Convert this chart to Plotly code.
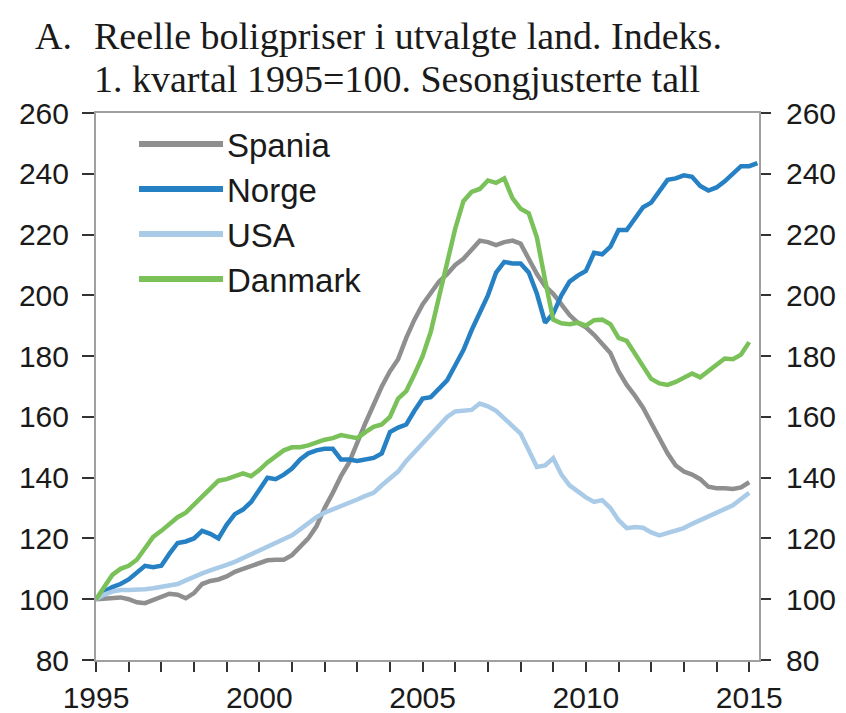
import plotly.graph_objects as go

# Quarterly index values, 1. kvartal 1995 = 100
start_year = 1995
spania = [100, 100.3, 100.5, 100.6, 100, 99, 98.7, 99.8, 100.5, 101.8, 101.5, 100.3,
          102, 105, 106, 106.5, 107.5, 109, 110, 111, 112, 112.8, 113, 113,
          114.5, 117, 120, 124, 130, 135, 140.5, 145, 152, 158, 164, 170,
          175, 179, 186, 192, 197, 201, 204.5, 207, 210, 212, 215, 218,
          217.5, 216.5, 217.5, 218, 217, 212, 207, 203, 200.5, 197, 193.5, 191,
          189.5, 187, 184, 181, 175, 170.5, 167, 163, 158, 153, 148, 144,
          142, 141, 139.5, 137, 136.5, 136.5, 136.3, 136.8, 138.5]
norge = [100, 102.5, 104, 105, 106.5, 109, 111, 110.5, 111, 115, 118.5, 119,
         120, 122.5, 121.5, 120, 124.5, 128, 129.5, 132, 136, 140, 139.5, 141,
         143, 146, 148, 149, 149.5, 149.5, 146, 146, 145.5, 146, 146.5, 148,
         155, 156.5, 157.5, 162, 166, 166.5, 169, 172, 177, 182, 188.5, 194,
         200, 207.5, 211, 210.5, 210.5, 207.5, 200.5, 191, 194, 200, 204.5, 206.5,
         208, 214, 213.5, 216, 221.5, 221.5, 225, 229, 230.5, 234, 238, 238.5,
         239.5, 239, 236, 234.5, 235.5, 237.5, 240, 242.5, 242.5, 243.5]
usa = [100, 101.5, 102.5, 103, 103, 103, 103.3, 103.6, 104, 104.3, 105, 106.2,
       107.5, 108.5, 109.5, 110.3, 111.3, 112.3, 113.5, 114.8, 115.8, 117, 118.3, 119.7,
       121, 123, 125, 127, 128.5, 129.5, 130.5, 131.8, 132.8, 134, 135, 137.5,
       140, 142, 145.5, 148.5, 151.3, 154, 157, 160, 161.8, 162, 162.3, 164.4,
       163.5, 162, 159.5, 157, 154.5, 149, 143.5, 144, 146.4, 141, 137.5, 135.5,
       133.5, 132, 132.6, 130, 126, 123.4, 123.8, 123.5, 122, 121, 121.8, 122.5,
       123.4, 124.8, 126, 127.2, 128.2, 129.5, 130.9, 133, 135]
danmark = [100, 104, 108, 110, 111, 113, 117, 120.5, 122.5, 125, 127, 128.5,
           131, 133.5, 136.5, 139, 139.5, 140.5, 141.4, 140.5, 142.5, 145, 147, 149,
           150, 150, 150.6, 151.5, 152.5, 153, 154, 153.5, 153, 155, 156.7, 157.5,
           160, 166, 168.5, 174, 180, 188, 199, 211, 222, 231, 234, 235,
           237.8, 237, 238.5, 232, 228.5, 227, 219, 205, 192, 190.8, 190.5, 191,
           190, 191.8, 192, 190.5, 186, 185, 181, 176.4, 172.5, 171, 170.5, 171.5,
           173, 174.3, 173, 175, 177, 179.2, 179, 180.5, 184.6]

names = ["Spania", "Norge", "USA", "Danmark"]
series = [spania, norge, usa, danmark]
colors = ["#8f8f8f", "#2681c4", "#a9cbe8", "#7bc15a"]

year_ticks = list(range(1995, 2016))
year_labels = [str(y) if y % 5 == 0 else "" for y in year_ticks]
y_ticks = list(range(80, 261, 20))

# page offset of the figure inside the html body (default body margin)
OFF = 8
W, H = 846 - OFF, 713 - OFF
PL, PR, PT, PB = 96, 759, 113, 660          # plot area in window pixels
ML, MT = PL - OFF, PT - OFF
MR, MB = W - (PR - OFF), H - (PB - OFF)
PW, PH = PR - PL, PB - PT

def px(x):
    return (x - PL) / PW

def py(y):
    return (PB - y) / PH

fig = go.Figure()
for name, vals, col in zip(names, series, colors):
    t = [start_year + i / 4 for i in range(len(vals))]
    fig.add_trace(go.Scatter(x=t, y=vals, mode="lines", name=name,
                             line=dict(color=col, width=4.5), showlegend=False))
# right-hand axis carries the same scale
fig.add_trace(go.Scatter(x=[start_year], y=[spania[0]], yaxis="y2", mode="lines",
                         line=dict(color="rgba(0,0,0,0)"), showlegend=False,
                         hoverinfo="skip"))

axis_font = dict(family="Liberation Sans, Arial", size=30, color="#1a1a1a")
common = dict(showgrid=False, zeroline=False, tickfont=axis_font, automargin=False,
              tickwidth=2, tickcolor="#333", showline=True, linecolor="#a0a0a0",
              linewidth=2, ticks="outside", tickmode="array")
fig.update_layout(
    width=W, height=H,
    margin=dict(l=ML, r=MR, t=MT, b=MB, autoexpand=False),
    paper_bgcolor="white", plot_bgcolor="white",
    xaxis=dict(range=[1995, 2015.3], tickvals=year_ticks, ticktext=year_labels,
               ticklen=10, mirror=True, **common),
    yaxis=dict(range=[80, 260], tickvals=y_ticks, ticklen=12,
               ticklabelstandoff=7, **common),
    yaxis2=dict(range=[80, 260], tickvals=y_ticks, overlaying="y", side="right",
                ticklen=10, ticklabelstandoff=9, **common),
    showlegend=False,
)

title_font = dict(family="Liberation Serif, Times New Roman", size=38, color="#1a1a1a")
fig.add_annotation(text="A.", xref="paper", yref="paper", x=px(33), y=py(36),
                   xanchor="left", yanchor="middle", showarrow=False, font=title_font)
fig.add_annotation(text="Reelle boligpriser i utvalgte land. Indeks.", xref="paper",
                   yref="paper", x=px(92), y=py(36), xanchor="left", yanchor="middle",
                   showarrow=False, font=title_font)
fig.add_annotation(text="1. kvartal 1995=100. Sesongjusterte tall", xref="paper",
                   yref="paper", x=px(92), y=py(79), xanchor="left", yanchor="middle",
                   showarrow=False, font=title_font)

# legend
leg_font = dict(family="Liberation Sans, Arial", size=33, color="#1a1a1a")
for k, (name, col) in enumerate(zip(names, colors)):
    yy = 144 + 45 * k
    fig.add_shape(type="line", xref="paper", yref="paper", x0=px(139), x1=px(223),
                  y0=py(yy), y1=py(yy), line=dict(color=col, width=6))
    fig.add_annotation(text=name, xref="paper", yref="paper", x=px(225), y=py(yy + 1),
                       xanchor="left", yanchor="middle", showarrow=False, font=leg_font)

fig.write_html("out.html")
